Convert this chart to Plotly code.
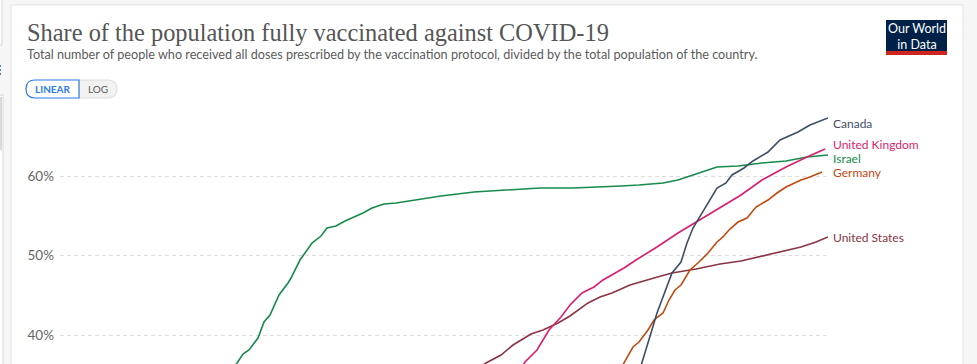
import plotly.graph_objects as go

# ---------------- data (share fully vaccinated, %) ----------------
israel_dates = ["2021-02-25", "2021-03-01", "2021-03-03", "2021-03-05", "2021-03-08", "2021-03-10",
                "2021-03-12", "2021-03-15", "2021-03-18", "2021-03-19", "2021-03-22", "2021-03-25",
                "2021-03-26", "2021-03-29", "2021-03-31", "2021-04-03", "2021-04-06", "2021-04-09",
                "2021-04-12", "2021-04-15", "2021-04-19", "2021-04-23", "2021-04-29", "2021-05-03",
                "2021-05-08", "2021-05-19", "2021-05-30", "2021-06-10", "2021-06-21", "2021-07-02",
                "2021-07-07", "2021-07-13", "2021-07-21", "2021-07-26", "2021-08-01", "2021-08-08",
                "2021-08-15", "2021-08-23", "2021-08-31", "2021-09-07", "2021-09-14"]
israel_vals = [33.7, 36.48, 37.61, 38.11, 39.62, 41.64, 42.52, 45.03, 46.54, 47.17, 49.43, 51.07,
               51.57, 52.45, 53.46, 53.71, 54.34, 54.84, 55.35, 55.97, 56.48, 56.60, 56.98, 57.23,
               57.48, 57.99, 58.24, 58.49, 58.49, 58.62, 58.74, 58.87, 59.12, 59.50, 60.25, 61.13,
               61.26, 61.64, 61.89, 62.39, 62.64]

canada_dates = ["2021-07-12", "2021-07-14", "2021-07-17", "2021-07-19", "2021-07-22", "2021-07-24",
                "2021-07-27", "2021-07-29", "2021-07-31", "2021-08-03", "2021-08-06", "2021-08-08",
                "2021-08-11", "2021-08-13", "2021-08-17", "2021-08-20", "2021-08-25", "2021-08-29",
                "2021-09-04", "2021-09-08", "2021-09-14"]
canada_vals = [34.09, 36.48, 40.25, 42.77, 45.66, 47.80, 49.18, 51.57, 53.46, 55.35, 57.23, 58.49,
               59.12, 60.13, 61.01, 61.89, 63.02, 64.53, 65.53, 66.42, 67.30]

uk_dates = ["2021-06-03", "2021-06-05", "2021-06-09", "2021-06-13", "2021-06-17", "2021-06-20",
            "2021-06-24", "2021-06-28", "2021-07-01", "2021-07-04", "2021-07-08", "2021-07-12",
            "2021-07-19", "2021-07-26", "2021-08-01", "2021-08-09", "2021-08-16", "2021-08-23",
            "2021-08-31", "2021-09-07", "2021-09-13"]
uk_vals = [35.35, 36.60, 38.11, 40.63, 42.26, 43.77, 45.28, 46.04, 46.92, 47.55, 48.43, 49.43,
           51.07, 52.83, 54.21, 56.10, 57.61, 59.50, 61.13, 62.39, 63.40]

germany_dates = ["2021-07-06", "2021-07-08", "2021-07-11", "2021-07-13", "2021-07-16", "2021-07-18",
                 "2021-07-21", "2021-07-23", "2021-07-25", "2021-07-27", "2021-07-30", "2021-08-02",
                 "2021-08-05", "2021-08-08", "2021-08-10", "2021-08-12", "2021-08-15", "2021-08-18",
                 "2021-08-21", "2021-08-25", "2021-08-28", "2021-08-31", "2021-09-05", "2021-09-08",
                 "2021-09-12"]
germany_vals = [34.97, 36.48, 38.49, 39.12, 40.63, 41.89, 42.77, 44.40, 45.66, 46.29, 48.18, 49.18,
                50.31, 51.70, 52.33, 53.21, 54.21, 54.72, 56.10, 56.98, 57.86, 58.62, 59.50, 59.87,
                60.50]

us_dates = ["2021-05-20", "2021-05-23", "2021-05-28", "2021-06-01", "2021-06-07", "2021-06-11",
            "2021-06-16", "2021-06-20", "2021-06-26", "2021-06-30", "2021-07-04", "2021-07-10",
            "2021-07-18", "2021-07-24", "2021-08-01", "2021-08-09", "2021-08-16", "2021-08-22",
            "2021-08-29", "2021-09-05", "2021-09-10", "2021-09-14"]
us_vals = [35.60, 36.48, 37.48, 38.74, 40.13, 40.63, 41.51, 42.39, 44.03, 44.78, 45.28, 46.29,
           47.17, 47.80, 48.30, 48.93, 49.31, 49.81, 50.44, 51.07, 51.70, 52.33]

y_tick_vals = [40, 50, 60]
y_tick_text = ["40%", "50%", "60%"]

series = [
    ("Israel", israel_dates, israel_vals, "#178a4c"),
    ("United States", us_dates, us_vals, "#8a3444"),
    ("United Kingdom", uk_dates, uk_vals, "#d81f6e"),
    ("Germany", germany_dates, germany_vals, "#bf4b10"),
    ("Canada", canada_dates, canada_vals, "#3e4d65"),
]
# label vertical centers (pixels) after collision avoidance, like the original
label_y_px = {"Canada": 123.5, "United Kingdom": 144.5, "Israel": 158.5,
              "Germany": 172, "United States": 237}

# ---------------- layout geometry ----------------
W, H = 977, 364
PL, PR, PT, PB = 60, 828, 110, 364


def px(x):
    return (x - PL) / (PR - PL)


def py(y):
    return (PB - y) / (PB - PT)


def rrect(x0, y0, x1, y1, rl, rr):
    # rounded rectangle path in paper coords (pixels in)
    pts = []
    pts.append(f"M{px(x0 + rl)},{py(y0)}")
    pts.append(f"L{px(x1 - rr)},{py(y0)}")
    pts.append(f"Q{px(x1)},{py(y0)} {px(x1)},{py(y0 + rr)}")
    pts.append(f"L{px(x1)},{py(y1 - rr)}")
    pts.append(f"Q{px(x1)},{py(y1)} {px(x1 - rr)},{py(y1)}")
    pts.append(f"L{px(x0 + rl)},{py(y1)}")
    pts.append(f"Q{px(x0)},{py(y1)} {px(x0)},{py(y1 - rl)}")
    pts.append(f"L{px(x0)},{py(y0 + rl)}")
    pts.append(f"Q{px(x0)},{py(y0)} {px(x0 + rl)},{py(y0)}")
    pts.append("Z")
    return " ".join(pts)


fig = go.Figure()
for name, d, v, c in series:
    fig.add_trace(go.Scatter(x=d, y=v, mode="lines", name=name,
                             line=dict(color=c, width=1.6), hoverinfo="skip"))

shapes = []
# card
shapes.append(dict(type="rect", xref="paper", yref="paper", x0=px(11), x1=px(963), y0=py(372), y1=py(5),
                   fillcolor="white", line=dict(color="#e3e3e3", width=1), layer="below"))
# left page elements
shapes.append(dict(type="rect", xref="paper", yref="paper", x0=px(-5), x1=px(2), y0=py(45), y1=py(-2),
                   fillcolor="white", line=dict(color="#d8d8d8", width=1), layer="below"))
shapes.append(dict(type="rect", xref="paper", yref="paper", x0=px(-5), x1=px(3), y0=py(372), y1=py(95),
                   fillcolor="white", line=dict(color="#d8d8d8", width=1), layer="below"))
shapes.append(dict(type="rect", xref="paper", yref="paper", x0=px(-5), x1=px(2), y0=py(150), y1=py(97),
                   fillcolor="#d9d9d9", line=dict(width=0), layer="below"))
for yy in (66, 70, 74):
    shapes.append(dict(type="rect", xref="paper", yref="paper", x0=px(-1), x1=px(1), y0=py(yy + 1), y1=py(yy - 1),
                       fillcolor="#4a7bc4", line=dict(width=0)))
# buttons
shapes.append(dict(type="path", xref="paper", yref="paper", path=rrect(79, 80, 117, 98, 0, 9),
                   fillcolor="#f2f2f2", line=dict(color="#dcdcdc", width=1)))
shapes.append(dict(type="path", xref="paper", yref="paper", path=rrect(26, 80, 79, 98, 9, 0),
                   fillcolor="white", line=dict(color="#2c7be5", width=1.2)))
# logo
shapes.append(dict(type="rect", xref="paper", yref="paper", x0=px(886), x1=px(947), y0=py(51), y1=py(20),
                   fillcolor="#002147", line=dict(width=0)))
shapes.append(dict(type="rect", xref="paper", yref="paper", x0=px(886), x1=px(947), y0=py(55), y1=py(51),
                   fillcolor="#ce261e", line=dict(width=0)))

annotations = []
annotations.append(dict(xref="paper", yref="paper", x=px(25), y=py(32), xanchor="left", yanchor="middle",
                        text="Share of the population fully vaccinated against COVID-19", showarrow=False,
                        font=dict(family="Liberation Serif, serif", size=24.4, color="#555555")))
annotations.append(dict(xref="paper", yref="paper", x=px(25), y=py(54.5), xanchor="left", yanchor="middle",
                        text="Total number of people who received all doses prescribed by the vaccination protocol, "
                             "divided by the total population of the country.",
                        showarrow=False, font=dict(family="Lato", size=12.65, color="#5b5b5b")))
annotations.append(dict(xref="paper", yref="paper", x=px(52.5), y=py(89), xanchor="center", yanchor="middle",
                        text="<b>LINEAR</b>", showarrow=False,
                        font=dict(family="Lato", size=10, color="#2c7be5")))
annotations.append(dict(xref="paper", yref="paper", x=px(97.5), y=py(89), xanchor="center", yanchor="middle",
                        text="LOG", showarrow=False,
                        font=dict(family="Lato", size=10, color="#5b5b5b")))
annotations.append(dict(xref="paper", yref="paper", x=px(916.5), y=py(36), xanchor="center", yanchor="middle",
                        text="Our World<br>in Data", showarrow=False, align="center",
                        font=dict(family="Lato", size=12.5, color="white")))
for name, d, v, c in series:
    annotations.append(dict(xref="paper", yref="paper", x=px(831), y=py(label_y_px[name]),
                            xanchor="left", yanchor="middle", text=name, showarrow=False,
                            font=dict(family="Lato", size=12, color=c)))

y_top = 60 + (176 - PT) / 7.95
y_bot = 60 - (PB - 176) / 7.95

fig.update_layout(
    width=W, height=H,
    margin=dict(l=PL, r=W - PR, t=PT, b=H - PB, pad=0),
    paper_bgcolor="#f6f6f6",
    plot_bgcolor="rgba(0,0,0,0)",
    showlegend=False,
    shapes=shapes,
    annotations=annotations,
    xaxis=dict(range=["2021-01-01", "2021-09-14"], visible=False, fixedrange=True),
    yaxis=dict(range=[y_bot, y_top], tickvals=y_tick_vals, ticktext=y_tick_text,
               showgrid=True, gridcolor="#dddddd", griddash="4px,3px", gridwidth=1,
               zeroline=False, showline=False, ticks="", ticklabelstandoff=5,
               tickfont=dict(family="Lato", size=13.5, color="#666666"), fixedrange=True),
)

fig.write_html("out.html", config={"displayModeBar": False},
               post_script="document.body.style.margin='0';document.body.style.overflow='hidden';")
